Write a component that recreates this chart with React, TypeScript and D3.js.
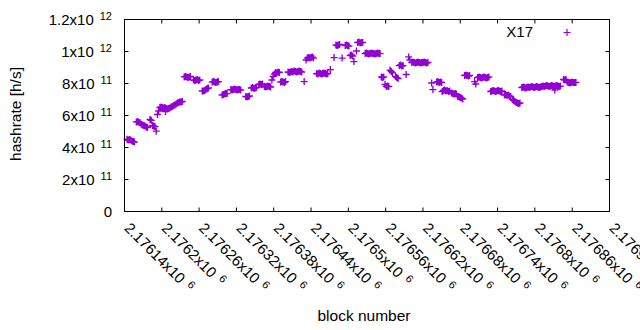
import React from 'react'
import * as d3 from 'd3'

// block heights mined, with the pool's hashrate estimate (in 1e9 h/s)
const blockNumbers = [
  2176144, 2176146, 2176148, 2176150, 2176152, 2176154, 2176156,
  2176159, 2176161, 2176163, 2176165,
  2176167, 2176169, 2176171, 2176173, 2176175, 2176177,
  2176181, 2176183,
  2176185, 2176187, 2176189,
  2176191,
  2176193, 2176195,
  2176197, 2176199, 2176201, 2176203, 2176205, 2176206, 2176207, 2176209, 2176211, 2176213, 2176215, 2176217,
  2176219, 2176221, 2176223, 2176225, 2176227, 2176229, 2176231, 2176233,
  2176236, 2176238, 2176240, 2176242, 2176244, 2176246,
  2176251, 2176253, 2176255, 2176257, 2176259, 2176261,
  2176265, 2176267, 2176269, 2176271, 2176273, 2176275,
  2176281, 2176283, 2176285, 2176287, 2176289, 2176291,
  2176297, 2176299, 2176301, 2176303, 2176305,
  2176311, 2176313, 2176315, 2176317, 2176319, 2176321, 2176323, 2176325, 2176327,
  2176335, 2176337, 2176339, 2176341,
  2176344, 2176346, 2176348, 2176350, 2176352,
  2176356, 2176358, 2176360, 2176362,
  2176365, 2176367, 2176369, 2176371, 2176373, 2176375,
  2176377, 2176379, 2176381,
  2176383, 2176385, 2176387, 2176389,
  2176391, 2176393, 2176395, 2176397, 2176399,
  2176403, 2176405, 2176407, 2176409, 2176411, 2176413, 2176415, 2176417, 2176419, 2176421, 2176423, 2176425,
  2176429,
  2176432, 2176434, 2176436, 2176438, 2176440, 2176442, 2176444,
  2176449, 2176451, 2176453, 2176455, 2176457, 2176459, 2176461, 2176463, 2176465, 2176467, 2176471,
  2176477, 2176480, 2176482, 2176484, 2176486, 2176490,
  2176495, 2176497, 2176499, 2176501,
  2176503, 2176505, 2176507, 2176509, 2176513,
  2176515, 2176517, 2176519, 2176521, 2176523,
  2176527, 2176529, 2176531, 2176533, 2176535, 2176537, 2176539, 2176541, 2176543, 2176545, 2176547, 2176549, 2176551,
  2176553, 2176555, 2176557, 2176559, 2176561, 2176563, 2176565,
  2176567, 2176569, 2176571, 2176576, 2176578, 2176580,
  2176582, 2176584, 2176586, 2176588, 2176593, 2176597, 2176599,
  2176602, 2176604, 2176606, 2176608, 2176610, 2176612, 2176614, 2176616, 2176618, 2176620, 2176622, 2176624, 2176626, 2176628,
  2176634, 2176636,
  2176642, 2176644, 2176646, 2176648, 2176650,
  2176651, 2176653, 2176655, 2176657, 2176659, 2176661, 2176663,
  2176666, 2176668, 2176670, 2176672, 2176674,
  2176676, 2176678, 2176680, 2176682, 2176684,
  2176687, 2176689, 2176691, 2176693, 2176695,
  2176703, 2176705,
  2176708, 2176710, 2176712, 2176714, 2176716, 2176718, 2176720, 2176722, 2176724, 2176726,
  2176729, 2176731, 2176733, 2176735, 2176737, 2176739, 2176741, 2176743, 2176745, 2176747,
  2176751, 2176753, 2176755, 2176757, 2176759, 2176761,
  2176764, 2176766, 2176768, 2176770, 2176772, 2176774, 2176776,
  2176779, 2176781, 2176783, 2176785, 2176787, 2176789, 2176791, 2176793, 2176795, 2176797, 2176799, 2176801, 2176803, 2176805, 2176807, 2176809,
  2176811, 2176813, 2176815, 2176817, 2176819, 2176821, 2176823, 2176825, 2176827, 2176829, 2176831, 2176832, 2176833, 2176835, 2176837, 2176839, 2176841,
  2176846, 2176848, 2176850, 2176852, 2176854, 2176856, 2176858, 2176860, 2176862, 2176864, 2176866,
]

const hashrateGH = [
  452, 447, 450, 447, 441, 437, 434,
  560, 562, 558, 555,
  545, 540, 537, 534, 528, 525,
  575, 570,
  537, 534, 531,
  502,
  606, 628,
  650, 653, 650, 647, 650, 625, 644, 641, 644, 647, 653, 656,
  662, 666, 672, 678, 681, 684, 684, 688,
  841, 844, 841, 838, 841, 844,
  822, 819, 822, 825, 819, 822,
  753, 753, 756, 762, 769, 772,
  809, 812, 809, 806, 809, 812,
  728, 731, 734, 737, 737,
  762, 759, 762, 765, 762, 759, 762, 762, 759,
  719, 716, 719, 722,
  772, 775, 769, 772, 775,
  794, 797, 794, 797,
  781, 778, 781, 784, 781, 778,
  822, 844, 859,
  869, 866, 872, 869,
  809, 812, 809, 806, 812,
  872, 869, 872, 875, 872, 878, 875, 872, 875, 878, 875, 872,
  812,
  947, 959, 962, 959, 962, 965, 959,
  862, 859, 866, 862, 859, 862, 866, 862, 859, 862, 887,
  962, 1041, 1037, 1041, 1044, 959,
  1037, 1041, 1037, 1034,
  975, 978, 972, 937, 1003,
  1056, 1059, 1053, 1056, 1056,
  987, 991, 987, 984, 987, 991, 987, 987, 984, 987, 991, 987, 987,
  841, 837, 841, 794, 781, 784, 781,
  884, 875, 866, 844, 837, 831,
  912, 916, 909, 912, 856, 966, 947,
  931, 934, 931, 928, 931, 934, 931, 928, 931, 931, 934, 931, 928, 931,
  803, 762,
  809, 812, 806, 809, 806,
  750, 756, 759, 753, 756, 750, 753,
  741, 737, 734, 737, 734,
  719, 716, 712, 709, 703,
  850, 853, 850, 847, 850,
  812, 797,
  837, 841, 837, 834, 837, 841, 837, 834, 837, 841,
  750, 753, 756, 753, 750, 753, 756, 753, 750, 753,
  728, 731, 725, 728, 722, 719,
  700, 694, 687, 681, 678, 675, 678,
  775, 778, 775, 772, 775, 778, 775, 778, 781, 778, 775, 778, 781, 778, 775, 778,
  781, 784, 781, 784, 787, 784, 781, 784, 787, 784, 781, 759, 784, 787, 784, 781, 784,
  825, 822, 825, 809, 806, 803, 806, 809, 806, 806, 806,
]

const xTicks = [
  2176140, 2176200, 2176260, 2176320, 2176380, 2176440, 2176500,
  2176560, 2176620, 2176680, 2176740, 2176800, 2176860, 2176920,
]
const xTickMantissas = [
  '2.17614', '2.1762', '2.17626', '2.17632', '2.17638', '2.17644', '2.1765',
  '2.17656', '2.17662', '2.17668', '2.17674', '2.1768', '2.17686', '2.17692',
]
const yTicks = [0, 2e11, 4e11, 6e11, 8e11, 1e12, 1.2e12]
const yTickMantissas = ['0', '2', '4', '6', '8', '1', '1.2']
const yTickExponents = ['', '11', '11', '11', '11', '12', '12']
const seriesName = 'X17'

const width = 640
const height = 330
const left = 124.5
const right = 609.5
const top = 19.5
const bottom = 211.5
const purple = '#9400d3'
const font = '"Liberation Sans", Arial, sans-serif'
const arm = 3.5
const tick = 4

function App() {
  const x = d3.scaleLinear().domain([2176140, 2176920]).range([left, right])
  const y = d3.scaleLinear().domain([0, 1.2e12]).range([bottom, top])

  const plus = (px: number, py: number) =>
    `M${px - arm},${py}h${arm * 2}M${px},${py - arm}v${arm * 2}`

  const marks = blockNumbers
    .map((b, i) => plus(x(b), y(hashrateGH[i] * 1e9)))
    .join('')

  return (
    <svg
      width={width}
      height={height}
      style={{ position: 'absolute', left: 0, top: 0, background: '#fff' }}
      fontFamily={font}
    >
      <rect width={width} height={height} fill="#fff" />

      {/* ticks, mirrored on all four sides */}
      <g stroke="#000" strokeWidth={1}>
        {yTicks.map((t, i) => (
          <g key={'yt' + i}>
            <line x1={left} x2={left + tick} y1={y(t)} y2={y(t)} />
            <line x1={right} x2={right - tick} y1={y(t)} y2={y(t)} />
          </g>
        ))}
        {xTicks.map((t, i) => (
          <g key={'xt' + i}>
            <line x1={x(t)} x2={x(t)} y1={bottom} y2={bottom - tick} />
            <line x1={x(t)} x2={x(t)} y1={top} y2={top + tick} />
          </g>
        ))}
      </g>

      {/* y tick labels */}
      {yTicks.map((t, i) => (
        <text key={'yl' + i} x={112} y={y(t) + 5} fontSize={15} textAnchor="end" fill="#000">
          {yTickExponents[i] ? yTickMantissas[i] + 'x10' : yTickMantissas[i]}
          {yTickExponents[i] && (
            <tspan dx={6} dy={-4.5} fontSize={11}>
              {yTickExponents[i]}
            </tspan>
          )}
        </text>
      ))}

      {/* x tick labels, rotated */}
      {xTicks.map((t, i) => (
        <text
          key={'xl' + i}
          transform={`translate(${x(t) - 1},229) rotate(45)`}
          fontSize={15}
          fill="#000"
        >
          {xTickMantissas[i] + 'x10'}
          <tspan dx={6} dy={-5} fontSize={11}>
            6
          </tspan>
        </text>
      ))}

      <text transform="translate(20.5,114) rotate(-90)" fontSize={15.5} textAnchor="middle" fill="#000">
        hashrate [h/s]
      </text>
      <text x={364} y={321} fontSize={15.5} textAnchor="middle" fill="#000">
        block number
      </text>

      {/* data */}
      <path d={marks} fill="none" stroke={purple} strokeWidth={1.35} />

      {/* key */}
      <text x={533} y={36.5} fontSize={15} textAnchor="end" fill="#000">
        {seriesName}
      </text>
      <path d={plus(567, 32.5)} fill="none" stroke={purple} strokeWidth={1.2} />

      <rect
        x={left}
        y={top}
        width={right - left}
        height={bottom - top}
        fill="none"
        stroke="#000"
        strokeWidth={1}
      />
    </svg>
  )
}

export default App
